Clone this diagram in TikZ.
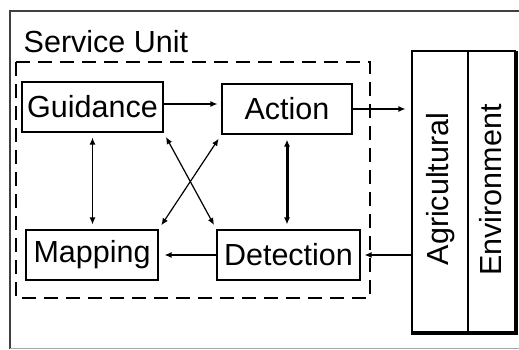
\documentclass[tikz,border=0pt]{standalone}
\usepackage{fontspec}
\setmainfont{Liberation Sans}
\usetikzlibrary{arrows.meta}
\tikzset{
  x=1pt, y=-1pt,
  every node/.style={font=\fontsize{30.5}{36}\selectfont},
  unitbox/.style={draw, line width=1.2pt, rectangle, inner sep=0pt, anchor=center},
  flow/.style={line width=1.2pt, -{Latex[length=7pt,width=6pt]}, shorten >=4pt},
  twoway/.style={line width=1.2pt, {Latex[length=7pt,width=6pt]}-{Latex[length=7pt,width=6pt]}, shorten >=5pt, shorten <=5pt},
}
\begin{document}
\begin{tikzpicture}
  \useasboundingbox (0,0) rectangle (519,349);
  % outer frame, running off the right and bottom edges
  \draw[black!75, line width=1.5pt] (10,349) -- (10,11) -- (519,11);
  \draw[black!35, line width=1.2pt] (10,348.3) -- (519,348.3);

  \node[anchor=base west, inner sep=0pt] (title) at (23.5,52) {Service Unit};

  % dashed service unit boundary
  \draw[line width=1.2pt, dash pattern=on 14pt off 8pt] (16,62) rectangle (370,298);

  % functional blocks
  \node[unitbox, minimum width=141pt, minimum height=50pt] (guid) at (92.5,107) {Guidance};
  \node[unitbox, minimum width=130pt, minimum height=50pt] (act) at (287,109) {Action};
  \node[unitbox, minimum width=132pt, minimum height=50pt] (map) at (92,255) {Mapping};
  \node[unitbox, minimum width=143pt, minimum height=50pt] (det) at (288.5,255) {Detection};

  % environment block with shadowed right and bottom edges
  \node[unitbox, minimum width=103pt, minimum height=281pt] (env) at (463.5,191.5) {};
  \draw[line width=3pt] (516,51) -- (516,333.5) -- (411.4,333.5);
  \draw[line width=1.2pt] (468,51) -- (468,335);
  \node[rotate=90, inner sep=0pt] (agri) at (440.5,189) {Agricultural};
  \node[rotate=90, inner sep=0pt] (envt) at (491,190) {Environment};

  % connectors
  \draw[flow] ([yshift=3pt]guid.east) -- ([yshift=3pt]guid.east -| act.west);
  \draw[flow, shorten >=6pt] (act.east) -- (act.east -| env.west);
  \draw[flow] (det.east -| env.west) -- (det.east);
  \draw[flow, shorten >=6pt] (det.west) -- (map.east);
  \draw[twoway] (guid.south) -- (guid.south |- map.north);
  \draw[twoway, line width=3pt] (act.south) -- (act.south |- det.north);
  \draw[twoway] (guid.south east) -- (det.north west);
  \draw[twoway] (act.south west) -- (map.north east);
\end{tikzpicture}
\end{document}
